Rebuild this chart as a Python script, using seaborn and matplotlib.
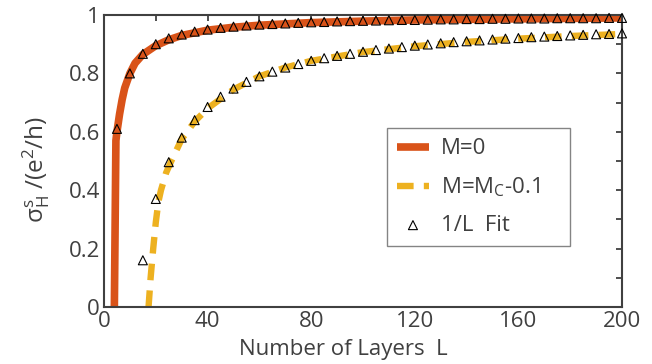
import numpy as np
import pandas as pd
import seaborn as sns
import matplotlib
matplotlib.use("Agg")
import matplotlib.pyplot as plt

# curve data
L_m0 = [4.0, 4.6, 5, 6, 7, 8, 10, 12, 15, 20, 25, 30, 40, 50, 60, 80, 100, 120, 150, 200]
s_m0 = [0.0, 0.57, 0.60, 0.66, 0.71, 0.75, 0.80, 0.835, 0.865, 0.895, 0.915, 0.93,
        0.948, 0.958, 0.965, 0.974, 0.979, 0.983, 0.986, 0.99]

L_mc = [17.2, 18, 19, 20, 21, 22, 24, 26, 30, 35, 40, 50, 60, 70, 80, 100, 120,
        140, 160, 180, 200]
s_mc = [0.0, 0.10, 0.20, 0.29, 0.36, 0.40, 0.46, 0.50, 0.575, 0.635, 0.68, 0.745,
        0.79, 0.82, 0.843, 0.873, 0.893, 0.908, 0.919, 0.928, 0.935]

# 1/L fit points
L_fit1 = list(range(5, 205, 5))
s_fit1 = [0.61, 0.80, 0.867, 0.90, 0.92, 0.933, 0.943, 0.95, 0.956, 0.96, 0.964, 0.967,
          0.969, 0.971, 0.973, 0.975, 0.976, 0.978, 0.979, 0.98, 0.981, 0.982, 0.983,
          0.983, 0.984, 0.985, 0.985, 0.986, 0.986, 0.987, 0.987, 0.988, 0.988, 0.988,
          0.989, 0.989, 0.989, 0.989, 0.99, 0.99]
L_fit2 = list(range(15, 205, 5))
s_fit2 = [0.16, 0.37, 0.496, 0.58, 0.64, 0.685, 0.72, 0.748, 0.771, 0.79, 0.806, 0.82,
          0.832, 0.843, 0.852, 0.86, 0.867, 0.874, 0.88, 0.885, 0.89, 0.895, 0.899,
          0.903, 0.907, 0.91, 0.913, 0.916, 0.919, 0.921, 0.924, 0.926, 0.928, 0.93,
          0.932, 0.934, 0.935, 0.937]

sns.set_style("white")
plt.rcParams['font.family'] = ['Open Sans', 'DejaVu Sans']
plt.rcParams['mathtext.fontset'] = 'custom'
plt.rcParams['mathtext.rm'] = 'Open Sans'
plt.rcParams['mathtext.it'] = 'Open Sans'

grey = '#404040'
red = '#D95319'
yellow = '#EDB120'

fig = plt.figure(figsize=(6.52, 3.64), dpi=100)
ax = fig.add_axes([0.1595, 0.1566, 0.7945, 0.8022])

sns.lineplot(x=L_m0, y=s_m0, ax=ax, color=red, lw=5.5, sort=False, label='M=0',
             solid_capstyle='butt')
sns.lineplot(x=L_mc, y=s_mc, ax=ax, color=yellow, lw=4.6, sort=False,
             label=r'M=M$_\mathrm{C}$-0.1')
yl = ax.lines[-1]
yl.set_dashes([2.6, 1.6])
yl.set_dash_capstyle('butt')

fit = pd.DataFrame({'L': L_fit1 + L_fit2, 's': s_fit1 + s_fit2})
sns.scatterplot(data=fit, x='L', y='s', ax=ax, marker='^', s=42,
                facecolor='none', edgecolor='black', linewidth=0.8,
                label='1/L  Fit', zorder=5, clip_on=False)

ax.set_xlim(0, 200)
ax.set_ylim(0, 1)
ax.set_xticks(np.arange(0, 201, 20))
ax.set_xticklabels([str(v) if v % 40 == 0 else '' for v in range(0, 201, 20)])
ax.set_yticks(np.arange(0, 1.01, 0.1))
ax.set_yticklabels(['0', '', '0.2', '', '0.4', '', '0.6', '', '0.8', '', '1'])
ax.tick_params(direction='in', length=4, width=1.3, colors=grey, labelsize=16,
               top=True, right=True, pad=3)
for sp in ax.spines.values():
    sp.set_color(grey)
    sp.set_linewidth(1.5)

ax.set_xlabel('Number of Layers  L', fontsize=16, color=grey)
ax.xaxis.set_label_coords(0.462, -0.11)
ax.set_ylabel(r'σ$_\mathrm{H}^\mathrm{s}$ /(e$^2$/h)', fontsize=17.5, color=grey)
ax.yaxis.set_label_coords(-0.1, 0.47)

leg = ax.legend(loc='lower left', bbox_to_anchor=(0.546, 0.209, 0.354, 0.401),
                mode='expand', fontsize=16, frameon=True, fancybox=False,
                handlelength=1.45, borderaxespad=0, labelspacing=0.72,
                handletextpad=0.55, borderpad=0.45)
leg.get_frame().set_edgecolor('#666666')
leg.get_frame().set_linewidth(1.0)
for t in leg.get_texts():
    t.set_color(grey)

fig.savefig('out.png', dpi=100)
